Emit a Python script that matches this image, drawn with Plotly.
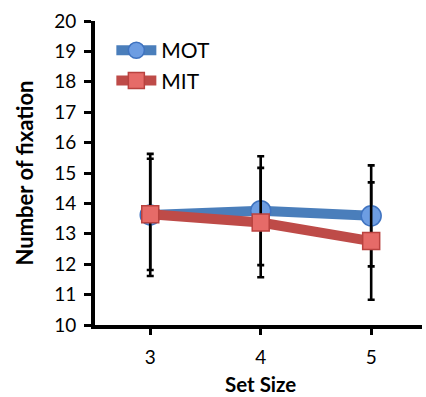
import plotly.graph_objects as go

set_sizes = [3, 4, 5]
mot = [13.62, 13.76, 13.59]
mot_err = [2.01, 1.79, 1.66]
mit = [13.64, 13.37, 12.76]
mit_err = [1.83, 1.80, 1.93]
y_ticks = list(range(10, 21))

fig = go.Figure()
fig.add_trace(go.Scatter(
    x=set_sizes, y=mot, name="MOT", mode="lines+markers",
    line=dict(color="#4a7ebb", width=10),
    marker=dict(symbol="circle", size=20, color="#6d9de2", line=dict(color="#3f73c0", width=1.5)),
    error_y=dict(type="data", array=mot_err, visible=True, color="black", thickness=2.6, width=3.5),
))
fig.add_trace(go.Scatter(
    x=set_sizes, y=mit, name="MIT", mode="lines+markers",
    line=dict(color="#be4b48", width=10),
    marker=dict(symbol="square", size=17, color="#e66b68", line=dict(color="#b9423f", width=1.5)),
    error_y=dict(type="data", array=mit_err, visible=True, color="black", thickness=2.6, width=3.5),
))

fig.update_layout(
    width=426, height=397,
    margin=dict(l=95, r=4, t=21, b=72),
    plot_bgcolor="white", paper_bgcolor="white",
    font=dict(family="Lato, Liberation Sans, Arial, sans-serif", color="black"),
    showlegend=True,
    legend=dict(x=0.05, y=0.97, xanchor="left", yanchor="top",
                font=dict(size=21, color="black"), bgcolor="rgba(0,0,0,0)",
                tracegroupgap=0, itemwidth=40),
    xaxis=dict(
        range=[2.5, 5.46], tickvals=set_sizes, ticktext=[str(s) for s in set_sizes],
        showline=True, linecolor="black", linewidth=4, ticks="outside", ticklen=6,
        tickwidth=3, tickcolor="black", showgrid=False, zeroline=False,
        tickfont=dict(size=19), ticklabelstandoff=6, automargin=False,
    ),
    yaxis=dict(
        range=[10, 20], tickvals=y_ticks,
        showline=True, linecolor="black", linewidth=4, ticks="outside", ticklen=7,
        tickwidth=3, tickcolor="black", showgrid=False, zeroline=False,
        tickfont=dict(size=19), ticklabelstandoff=4, automargin=False,
        title=dict(text="<b>Number of fixation</b>", font=dict(size=22), standoff=15),
    ),
    annotations=[dict(
        text="<b>Set Size</b>", xref="x", yref="paper", x=4, y=-0.193,
        xanchor="center", yanchor="middle", showarrow=False,
        font=dict(size=20.5, color="black"),
    )],
)

fig.write_html("out.html")
